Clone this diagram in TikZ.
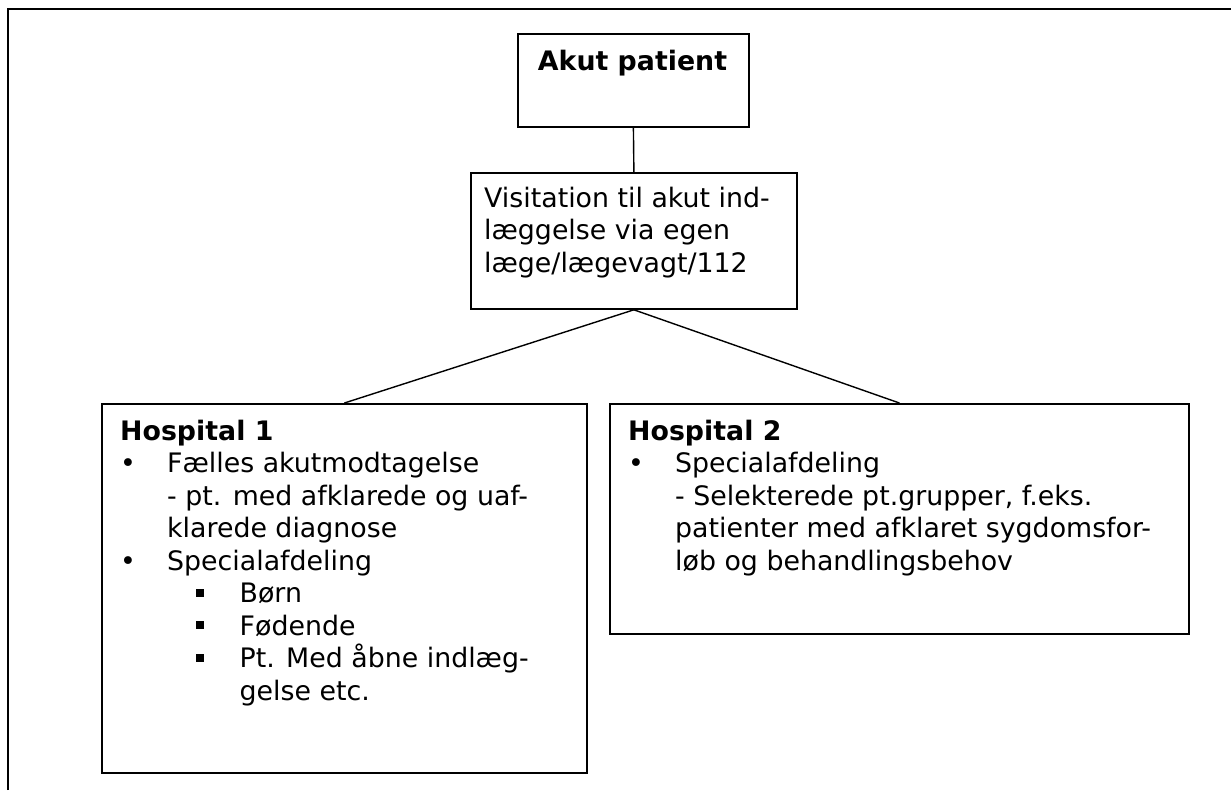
\documentclass[tikz,border=0pt]{standalone}
\usepackage{fontspec}
\setmainfont{DejaVu Sans}
\newcommand\dotitem{\makebox[47pt][l]{•}}
\newcommand\sqitem{\hspace*{76pt}\rule[6pt]{8pt}{8pt}\hspace{35.5pt}}
\newcommand\cont{\hspace*{47pt}}
\begin{document}
\begin{tikzpicture}[x=1pt,y=-1pt,
  box/.style={draw, line width=1.8pt, rectangle, inner sep=0pt, anchor=north west},
  link/.style={line width=1.4pt},
  txt/.style={inner sep=0pt, align=left, anchor=base west,
    font=\fontsize{26.8pt}{32.5pt}\selectfont},
]
\useasboundingbox (0,0) rectangle (1231,790);
% page frame
\draw[line width=2.6pt] (8,790) -- (8,9) -- (1231,9);

% boxes
\node[box, minimum width=231pt, minimum height=93pt] (akut) at (517,33) {};
\node[box, minimum width=326pt, minimum height=136pt] (visit) at (470,172) {};
\node[box, minimum width=485pt, minimum height=369pt] (h1) at (101,403) {};
\node[box, minimum width=579pt, minimum height=230pt] (h2) at (609,403) {};

% texts (multi-line nodes are placed by the baseline of their last line)
\node[txt, anchor=base] (akuttext) at (632.5,70) {\textbf{Akut patient}};
\node[txt] (visittext) at (484,272) {Visitation til akut ind-\\læggelse via egen\\læge/lægevagt/112};
\node[txt] (h1text) at (120,700) {\textbf{Hospital 1}\\
\dotitem Fælles akutmodtagelse\\
\cont - pt. med afklarede og uaf-\\
\cont klarede diagnose\\
\dotitem Specialafdeling\\
\sqitem Børn\\
\sqitem Fødende\\
\sqitem Pt. Med åbne indlæg-\\
\hspace*{119.5pt}gelse etc.};
\node[txt] (h2text) at (628,570) {\textbf{Hospital 2}\\
\dotitem Specialafdeling\\
\cont - Selekterede pt.grupper, f.eks.\\
\cont patienter med afklaret sygdomsfor-\\
\cont løb og behandlingsbehov};

% connectors
\draw[link] (akut.south) -- (visit.north);
\draw[link] (visit.south) -- (h1.north);
\draw[link] (visit.south) -- (h2.north);
\end{tikzpicture}
\end{document}
